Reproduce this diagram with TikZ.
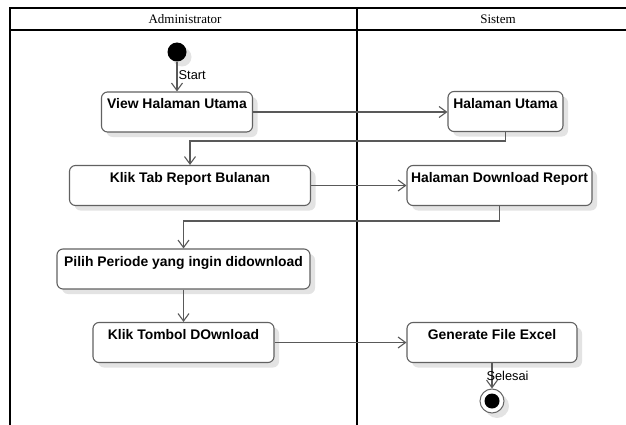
\documentclass[tikz,border=0pt]{standalone}
\usepackage{fontspec}
\setmainfont{Liberation Serif}
\newfontfamily\uisans{Liberation Sans}
\usetikzlibrary{arrows.meta,shadows}

\begin{document}
\begin{tikzpicture}[x=1pt,y=-1pt,
  lane/.style={line width=1.5pt, draw=black},
  lanetitle/.style={font=\fontsize{13}{15}\selectfont, inner sep=0pt},
  softshadow/.style={drop shadow={shadow xshift=5pt, shadow yshift=-5pt, fill=black!11, opacity=1}},
  action/.style={draw=black!62, line width=1.1pt, fill=white, rounded corners=6pt,
    text height=14pt, text depth=20pt, inner ysep=3pt, inner xsep=0pt,
    font=\uisans\bfseries\fontsize{13.9}{16}\selectfont, softshadow},
  flow/.style={draw=black!65, line width=1.1pt,
    -{Straight Barb[length=7.5pt,width=11pt,line width=1.1pt]}},
  flowlabel/.style={font=\uisans\fontsize{12.8}{14}\selectfont, inner sep=0pt}
]
\useasboundingbox (0,0) rectangle (626,425);

% swimlane frame
\draw[lane] (626,8) -- (10,8) -- (10,425);
\draw[lane] (10,30) -- (626,30);
\draw[lane] (357,8) -- (357,425);
\node[lanetitle] (ladmin) at (185,19) {Administrator};
\node[lanetitle] (lsys) at (498,19) {Sistem};

% initial node
\node[circle, fill=black, minimum size=19pt, inner sep=0pt, softshadow] (start) at (177,52) {};

% actions
\node[action, minimum width=151pt] (view) at (177,112) {View Halaman Utama};
\node[action, minimum width=115pt] (hu) at (505.5,111.5) {Halaman Utama};
\node[action, minimum width=241pt] (tab) at (190,185.5) {Klik Tab Report Bulanan};
\node[action, minimum width=185pt] (hdr) at (499.5,185.5) {Halaman Download Report};
\node[action, minimum width=253pt] (pilih) at (183.5,269) {Pilih Periode yang ingin didownload};
\node[action, minimum width=181pt] (tombol) at (183.5,342.5) {Klik Tombol DOwnload};
\node[action, minimum width=170pt] (gen) at (492,342.5) {Generate File Excel};

% final node
\node[circle, draw=black!60, line width=1pt, fill=white, minimum size=24pt, inner sep=0pt, softshadow] (final) at (492,401) {};
\node[circle, fill=black, minimum size=15pt, inner sep=0pt] (finaldot) at (final.center) {};

% control flow
\draw[flow] (start) -- (view.north);
\node[flowlabel, anchor=west] (lstart) at (178.5,75) {Start};
\draw[flow] (view.east |- 0,112) -- (hu.west |- 0,112);
\draw[flow] (hu.south) -- (hu.south |- 0,141) -| (tab.north);
\draw[flow] (tab.east) -- (hdr.west);
\draw[flow] (hdr.south) -- (hdr.south |- 0,221) -| (pilih.north);
\draw[flow] (pilih.south) -- (tombol.north);
\draw[flow] (tombol.east) -- (gen.west);
\draw[flow] (gen.south) -- (final.north);
\node[flowlabel] (lend) at (507.5,376) {Selesai};
\end{tikzpicture}
\end{document}
